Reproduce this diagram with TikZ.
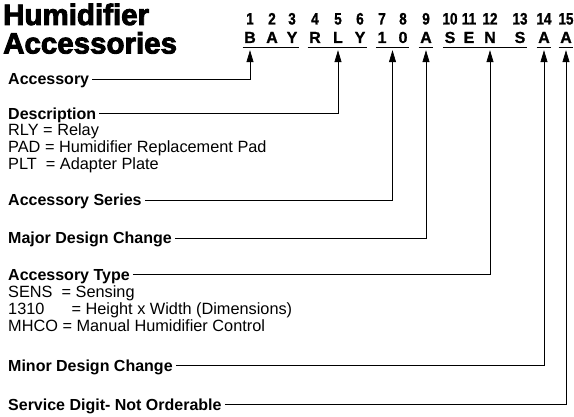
\documentclass[tikz,border=0pt]{standalone}
\usepackage{fontspec}
\setmainfont{Liberation Sans}
\newfontfamily\heavyfont{Liberation Sans Bold}[FakeBold=3]
\newfontfamily\codefont{Liberation Sans Bold}[FakeBold=1]
\newfontfamily\numfont{Liberation Sans Bold}[FakeBold=1, FakeStretch=0.82]
\usetikzlibrary{arrows.meta,calc}

\begin{document}
\begin{tikzpicture}[
  x=1pt, y=-1pt,
  title/.style={font=\heavyfont\fontsize{29.5}{29.5}\selectfont, anchor=base west, inner sep=0},
  digit/.style={font=\numfont\fontsize{16.5}{16.5}\selectfont, anchor=base, inner sep=0, text height=11.8pt, text depth=0pt},
  letter/.style={font=\codefont\fontsize{16}{16}\selectfont, anchor=base, inner xsep=0, inner ysep=4.7pt, text height=11.5pt, text depth=0pt},
  field/.style={font=\bfseries\fontsize{16}{16}\selectfont, anchor=base west, inner sep=0, text height=12pt, text depth=0pt},
  note/.style={font=\fontsize{16.3}{16.3}\selectfont, anchor=base west, inner sep=0},
  uline/.style={line width=0.8pt, shorten <=-1.5pt, shorten >=-1.5pt},
  ptr/.style={line width=0.7pt, -{Triangle[length=12pt,width=7pt]}, shorten <=3pt, shorten >=2.3pt}
]
\useasboundingbox (0,0) rectangle (574,417);

\node[title] (ttl1) at (3,25) {Humidifier};
\node[title] (ttl2) at (3,53.5) {Accessories};

% model number: digit positions and characters
\foreach \px/\ch [count=\i] in {250/B,272/A,292/Y,315/R,338/L,360/Y,382/1,403/0,426/A,450/S,469/E,490/N,520/S,544/A,566/A} {
  \node[digit] (n\i) at (\px,24.5) {\i};
  \node[letter] (c\i) at (\px,43) {\ch};
}
\foreach \a/\b in {1/3,4/6,7/8,9/9,10/13,14/14,15/15}
  \draw[uline] (c\a.south west) -- (c\b.south east);

% field labels
\node[field] (acc) at (8,85) {Accessory};
\node[field] (dsc) at (8,119.3) {Description};
\foreach \t [count=\k] in {RLY = Relay, PAD = Humidifier Replacement Pad, PLT\ \ = Adapter Plate}
  \node[note] (dsc\k) at (8,{119.3+16.7*\k}) {\t};
\node[field] (ser) at (8,206) {Accessory Series};
\node[field] (maj) at (8,244) {Major Design Change};
\node[field] (typ) at (8,280.7) {Accessory Type};
\foreach \t [count=\k] in {SENS\ \ = Sensing, 1310\ \ \ \ \ \ = Height x Width (Dimensions), MHCO = Manual Humidifier Control}
  \node[note] (typ\k) at (8,{280.7+16.8*\k}) {\t};
\node[field] (mnr) at (8,371.5) {Minor Design Change};
\node[field] (svc) at (8,410) {Service Digit- Not Orderable};

\coordinate (srs) at ($(c7.south)!.5!(c8.south)$);
\draw[ptr] (acc.east) -| (c1.south);
\draw[ptr] (dsc.east) -| (c5.south);
\draw[ptr] (ser.east) -| (srs);
\draw[ptr] (maj.east) -| (c9.south);
\draw[ptr] (typ.east) -| (c12.south);
\draw[ptr] (mnr.east) -| (c14.south);
\draw[ptr] (svc.east) -| (c15.south);
\end{tikzpicture}
\end{document}
